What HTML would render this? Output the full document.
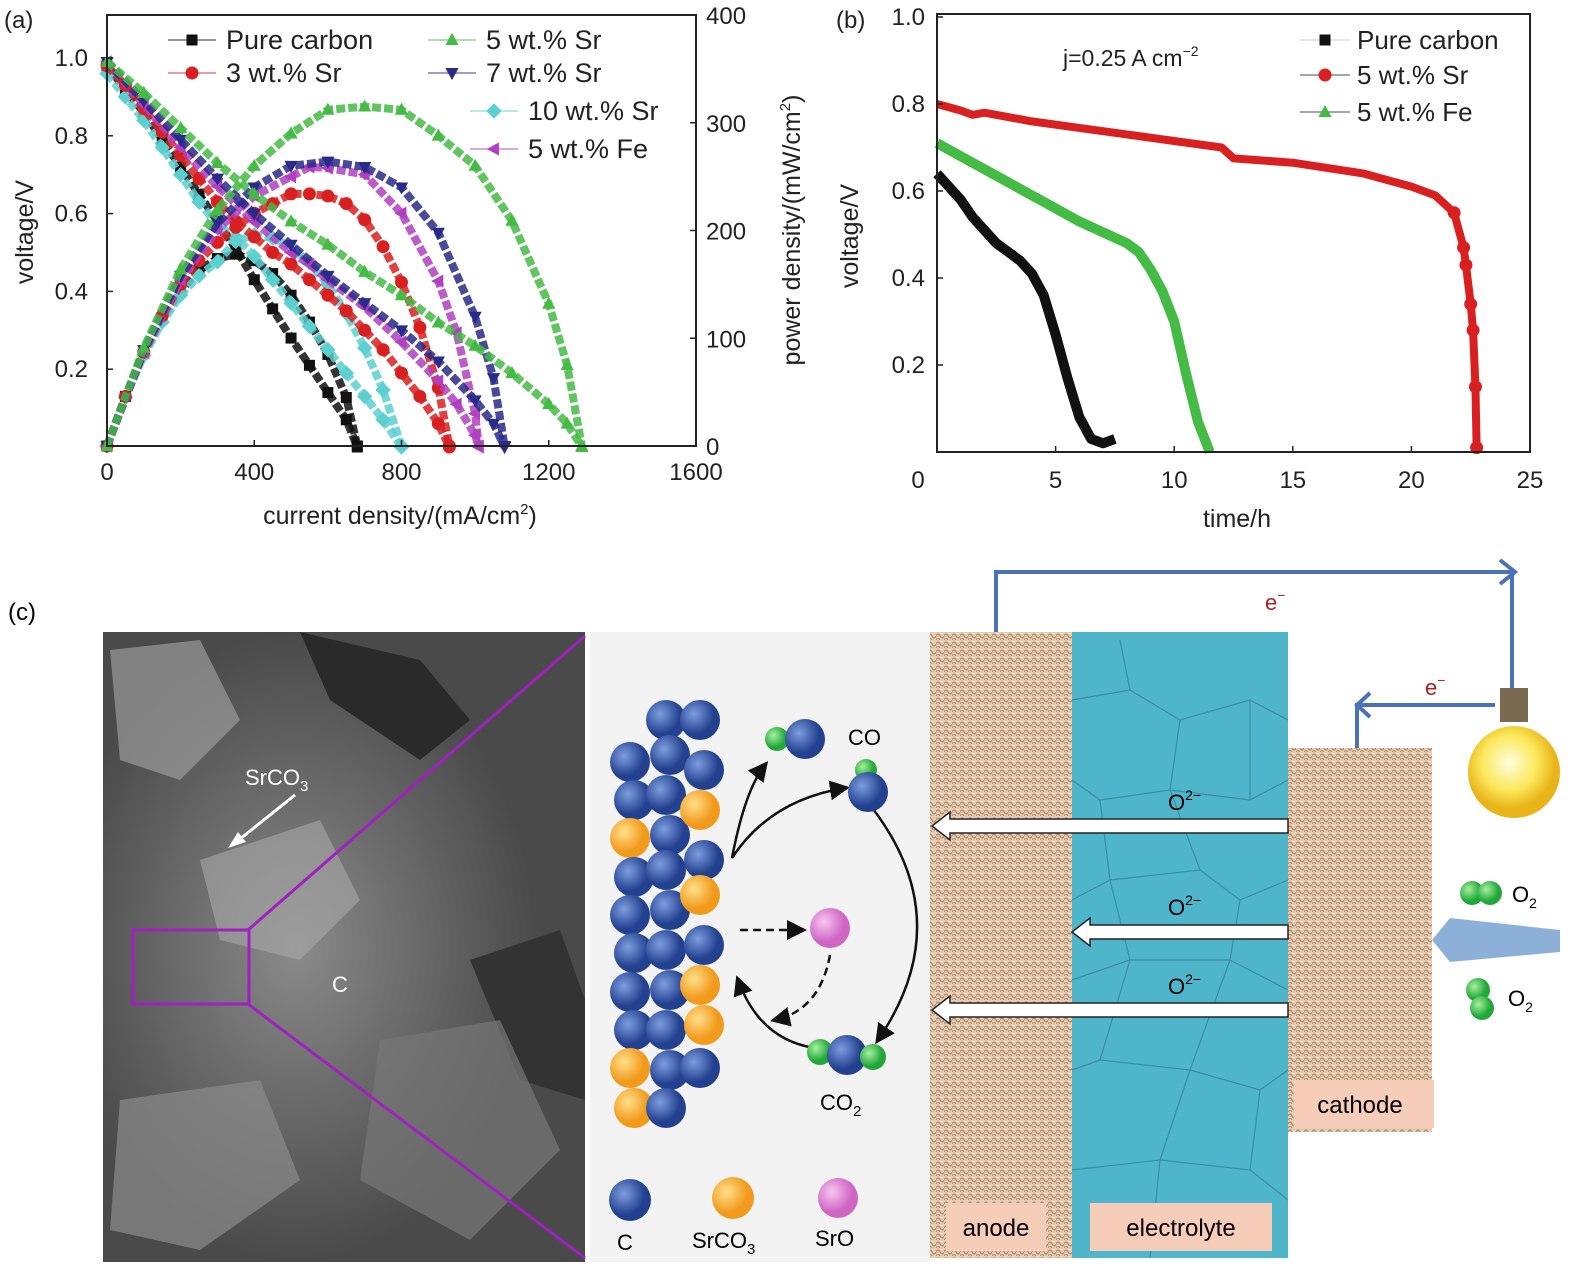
<!DOCTYPE html>
<html><head><meta charset="utf-8"><style>
html,body{margin:0;padding:0;background:#fff;overflow:hidden;width:1577px;height:1276px}
svg{display:block;font-family:"Liberation Sans",sans-serif}
</style></head><body>
<svg id="fig" width="1577" height="1276" viewBox="0 0 1577 1276">
<defs>
<pattern id="sponge" width="8" height="8" patternUnits="userSpaceOnUse"><rect width="8" height="8" fill="#e6cdb4"/><path d="M0 4 Q2 0 4 4 T8 4" stroke="#b08868" stroke-width="1.2" fill="none"/><path d="M0 8 Q2 5 4 8" stroke="#b08868" stroke-width="1" fill="none"/></pattern>
<radialGradient id="gb" cx="35%" cy="35%"><stop offset="0" stop-color="#7e9ee0"/><stop offset="1" stop-color="#23418f"/></radialGradient>
<radialGradient id="go" cx="35%" cy="35%"><stop offset="0" stop-color="#ffe08a"/><stop offset="1" stop-color="#f29a1c"/></radialGradient>
<radialGradient id="gp" cx="35%" cy="35%"><stop offset="0" stop-color="#f6c6ee"/><stop offset="1" stop-color="#d066c4"/></radialGradient>
<radialGradient id="gg" cx="35%" cy="35%"><stop offset="0" stop-color="#a7f0a0"/><stop offset="1" stop-color="#22a83a"/></radialGradient>
<radialGradient id="gy" cx="45%" cy="40%"><stop offset="0" stop-color="#fffde0"/><stop offset="0.6" stop-color="#fbe85a"/><stop offset="1" stop-color="#e8b418"/></radialGradient>
<radialGradient id="sem" cx="40%" cy="50%"><stop offset="0" stop-color="#8a8a8a"/><stop offset="1" stop-color="#4a4a4a"/></radialGradient>
<marker id="ah" markerWidth="8" markerHeight="8" refX="6" refY="4" orient="auto"><path d="M0 0 L8 4 L0 8 z" fill="#111"/></marker>
</defs>
<g id="panelA"></g>
<g id="panelB"></g>
<g id="panelC">
<text x="8" y="620" font-size="24">(c)</text>
<rect x="103" y="632" width="482" height="630" fill="url(#sem)"/>
<path d="M300 632 L420 660 L470 720 L420 760 L330 700 Z" fill="#2a2a2a"/>
<path d="M470 960 L560 930 L585 1000 L585 1100 L520 1080 Z" fill="#333"/>
<path d="M110 650 L200 640 L240 720 L180 780 L120 760 Z" fill="#9a9a9a" opacity="0.7"/>
<path d="M200 860 L320 820 L360 900 L300 960 L220 940 Z" fill="#a8a8a8" opacity="0.6"/>
<path d="M120 1100 L260 1080 L300 1180 L200 1250 L110 1230 Z" fill="#8c8c8c" opacity="0.7"/>
<path d="M380 1040 L500 1020 L560 1150 L470 1240 L360 1180 Z" fill="#777" opacity="0.7"/>
<line x1="248" y1="930" x2="585" y2="636" stroke="#a020c0" stroke-width="3"/>
<line x1="248" y1="1004" x2="585" y2="1258" stroke="#a020c0" stroke-width="3"/>
<rect x="133" y="930" width="116" height="74" fill="none" stroke="#a020c0" stroke-width="3"/>
<text x="245" y="785" font-size="22" fill="#fff">SrCO<tspan font-size="15" dy="6">3</tspan></text>
<line x1="295" y1="795" x2="235" y2="843" stroke="#fff" stroke-width="3"/>
<path d="M228 848 L238 832 L246 842 Z" fill="#fff"/>
<text x="332" y="992" font-size="22" fill="#fff">C</text>
<rect x="590" y="632" width="340" height="630" fill="#f3f3f3"/>
<g id="balls"></g>
<g fill="none" stroke="#111" stroke-width="2.5">
<path d="M732 858 Q745 790 765 765" marker-end="url(#ah)"/>
<path d="M732 858 Q770 800 845 788" marker-end="url(#ah)"/>
<path d="M870 805 Q960 920 878 1040" marker-end="url(#ah)"/>
<path d="M815 1048 Q760 1040 738 980" marker-end="url(#ah)"/>
<path d="M740 930 L802 930" stroke-dasharray="8 5" marker-end="url(#ah)"/>
<path d="M830 955 Q820 1010 775 1020" stroke-dasharray="8 5" marker-end="url(#ah)"/>
</g>
<circle cx="777" cy="739" r="12" fill="url(#gg)"/><circle cx="805" cy="739" r="20" fill="url(#gb)"/>
<circle cx="866" cy="770" r="11" fill="url(#gg)"/><circle cx="868" cy="792" r="20" fill="url(#gb)"/>
<text x="848" y="745" font-size="22">CO</text>
<circle cx="830" cy="928" r="20" fill="url(#gp)"/>
<circle cx="820" cy="1052" r="13" fill="url(#gg)"/><circle cx="847" cy="1055" r="20" fill="url(#gb)"/><circle cx="873" cy="1057" r="13" fill="url(#gg)"/>
<text x="820" y="1110" font-size="22">CO<tspan font-size="15" dy="6">2</tspan></text>
<circle cx="630" cy="1200" r="21" fill="url(#gb)"/><circle cx="733" cy="1198" r="21" fill="url(#go)"/><circle cx="838" cy="1198" r="20" fill="url(#gp)"/>
<text x="617" y="1250" font-size="22">C</text>
<text x="692" y="1248" font-size="22">SrCO<tspan font-size="15" dy="6">3</tspan></text>
<text x="815" y="1246" font-size="22">SrO</text>
<rect x="930" y="632" width="142" height="626" fill="url(#sponge)"/>
<rect x="1072" y="632" width="216" height="626" fill="#4fb5ca"/>
<g stroke="#3a8ea3" stroke-width="1.2" fill="none">
<path d="M1072 700 L1130 690 L1180 720 L1250 700 L1288 720 M1130 690 L1120 640 M1180 720 L1170 790 L1100 800 L1072 780 M1170 790 L1250 800 L1288 780 M1250 700 L1250 800 M1100 800 L1110 880 L1072 900 M1110 880 L1200 870 L1240 900 L1288 880 M1200 870 L1170 790 M1110 880 L1130 960 L1072 980 M1130 960 L1230 960 L1240 900 M1230 960 L1288 990 M1130 960 L1100 1060 L1072 1070 M1100 1060 L1190 1070 L1230 960 M1190 1070 L1260 1090 L1288 1070 M1190 1070 L1160 1160 L1072 1170 M1160 1160 L1250 1170 L1260 1090 M1250 1170 L1288 1200 M1160 1160 L1150 1258"/>
</g>
<rect x="1288" y="748" width="144" height="384" fill="url(#sponge)"/>
<rect x="946" y="1203" width="100" height="48" fill="#f6cdb8"/>
<text x="996" y="1236" font-size="24" text-anchor="middle">anode</text>
<rect x="1090" y="1203" width="182" height="48" fill="#f6cdb8"/>
<text x="1181" y="1236" font-size="24" text-anchor="middle">electrolyte</text>
<rect x="1294" y="1080" width="140" height="48" fill="#f6cdb8"/>
<text x="1360" y="1113" font-size="24" text-anchor="middle">cathode</text>
<g fill="#fff" stroke="#222" stroke-width="1.5">
<path d="M1288 819 L950 819 L950 812 L932 826 L950 840 L950 833 L1288 833 Z"/>
<path d="M1288 925 L1090 925 L1090 918 L1072 932 L1090 946 L1090 939 L1288 939 Z"/>
<path d="M1288 1003 L950 1003 L950 996 L932 1010 L950 1024 L950 1017 L1288 1017 Z"/>
</g>
<text x="1168" y="810" font-size="22">O<tspan font-size="14" dy="-10">2−</tspan></text>
<text x="1168" y="915" font-size="22">O<tspan font-size="14" dy="-10">2−</tspan></text>
<text x="1168" y="994" font-size="22">O<tspan font-size="14" dy="-10">2−</tspan></text>
<g fill="none" stroke="#4a72b8" stroke-width="4">
<path d="M996 632 L996 572 L1512 572 L1512 690"/>
<path d="M1500 560 L1515 572 L1500 584"/>
<path d="M1357 748 L1357 705 L1495 705"/>
<path d="M1370 693 L1357 705 L1370 717"/>
</g>
<text x="1265" y="610" font-size="22" fill="#b02020">e<tspan font-size="14" dy="-10">−</tspan></text>
<text x="1425" y="695" font-size="22" fill="#b02020">e<tspan font-size="14" dy="-10">−</tspan></text>
<g>
<rect x="1500" y="688" width="28" height="34" fill="#7a6a50"/>
<circle cx="1514" cy="772" r="46" fill="url(#gy)"/>
</g>
<path d="M1432 940 L1450 918 L1560 930 L1560 952 L1450 962 Z" fill="#8db0d8"/>
<circle cx="1472" cy="893" r="12" fill="url(#gg)"/><circle cx="1490" cy="893" r="12" fill="url(#gg)"/>
<text x="1512" y="902" font-size="22">O<tspan font-size="14" dy="6">2</tspan></text>
<circle cx="1478" cy="990" r="12" fill="url(#gg)"/><circle cx="1482" cy="1008" r="12" fill="url(#gg)"/>
<text x="1508" y="1006" font-size="22">O<tspan font-size="14" dy="6">2</tspan></text>
</g>
</svg>
<script>
const NS='http://www.w3.org/2000/svg';
function mk(p,t,a){const e=document.createElementNS(NS,t);for(const k in a)e.setAttribute(k,a[k]);p.appendChild(e);return e;}

// ---- Panel A data ----
const aSeriesNames=['Pure carbon','3 wt.% Sr','5 wt.% Sr','7 wt.% Sr','10 wt.% Sr','5 wt.% Fe'];
const aCurrentPure=[0,50,100,150,200,250,300,350,400,450,500,550,600,650,680];
const aVoltPure=[0.98,0.92,0.86,0.79,0.72,0.65,0.58,0.51,0.43,0.355,0.28,0.21,0.14,0.07,0];
const aPowerPure=[0,46,86,119,144,163,174,178,172,160,140,115,85,45,0];
const aCurrent3Sr=[0,50,100,150,200,250,300,350,400,450,500,550,600,650,700,750,800,850,900,930];
const aVolt3Sr=[0.98,0.93,0.87,0.81,0.75,0.69,0.63,0.58,0.54,0.5,0.47,0.43,0.39,0.35,0.3,0.25,0.19,0.13,0.06,0];
const aPower3Sr=[0,46,87,121,150,172,189,203,216,225,234,234,232,225,210,185,152,110,54,0];
const aCurrent5Sr=[0,100,200,300,400,500,600,700,800,900,1000,1100,1200,1250,1290];
const aVolt5Sr=[0.99,0.91,0.82,0.73,0.65,0.58,0.52,0.45,0.39,0.32,0.26,0.19,0.11,0.06,0];
const aPower5Sr=[0,91,164,219,260,290,312,315,312,288,260,209,132,75,0];
const aCurrent7Sr=[0,100,200,300,400,500,600,700,800,900,1000,1050,1080];
const aVolt7Sr=[0.99,0.89,0.79,0.69,0.6,0.52,0.44,0.37,0.3,0.22,0.12,0.06,0];
const aPower7Sr=[0,89,158,207,240,260,264,259,240,198,120,63,0];
const aCurrent10Sr=[0,50,100,150,200,250,300,350,400,450,500,550,600,650,700,750,800];
const aVolt10Sr=[0.96,0.9,0.84,0.77,0.7,0.63,0.57,0.54,0.49,0.43,0.37,0.31,0.25,0.19,0.13,0.07,0];
const aPower10Sr=[0,45,84,115,140,158,171,190,196,193,185,170,150,123,91,52,0];
const aCurrentFe=[0,100,200,300,400,500,550,600,700,800,900,950,1000,1010];
const aVoltFe=[0.99,0.88,0.77,0.67,0.58,0.5,0.47,0.43,0.36,0.27,0.17,0.11,0.03,0];
const aPowerFe=[0,88,154,201,232,250,259,258,252,216,153,105,30,0];
const aXTicks=[0,400,800,1200,1600];
const aYTicks=[0.2,0.4,0.6,0.8,1.0];
const aY2Ticks=[0,100,200,300,400];

// ---- Panel B data ----
const bTimeRed=[0,1,1.5,2,4,6,8,10,12,12.5,15,18,20,21,21.8,22.2,22.3,22.5,22.6,22.7,22.75];
const bVoltRed=[0.8,0.785,0.775,0.78,0.76,0.745,0.73,0.715,0.7,0.675,0.665,0.64,0.61,0.59,0.55,0.47,0.43,0.34,0.28,0.15,0.01];
const bTimeGreen=[0,1,2,3,4,5,6,7,8,8.5,9,9.5,10,10.5,11,11.5];
const bVoltGreen=[0.71,0.68,0.65,0.62,0.59,0.56,0.53,0.505,0.48,0.46,0.42,0.37,0.3,0.18,0.07,0];
const bTimeBlack=[0,0.5,1,1.5,2,2.5,3,3.5,4,4.5,5,5.5,6,6.5,7,7.5];
const bVoltBlack=[0.64,0.61,0.58,0.54,0.51,0.48,0.46,0.44,0.41,0.36,0.27,0.17,0.08,0.03,0.02,0.03];
const bXTicks=[5,10,15,20,25];
const bYTicks=[0.2,0.4,0.6,0.8,1.0];

// ---- Panel A drawing ----
const A=document.getElementById('panelA');
const ax={l:107,r:696,t:15,b:446};
const axX=v=>ax.l+v/1600*(ax.r-ax.l);
const axY=v=>447-v*389;
const axY2=v=>ax.b-v/400*(ax.b-ax.t);
function marker(g,type,x,y,c,s){
  let e;
  if(type==='sq')e=mk(g,'rect',{x:x-s/2,y:y-s/2,width:s,height:s,fill:c});
  else if(type==='ci')e=mk(g,'circle',{cx:x,cy:y,r:s/2+1,fill:c});
  else if(type==='tu')e=mk(g,'path',{d:`M${x} ${y-s*0.65}L${x+s*0.6} ${y+s*0.45}L${x-s*0.6} ${y+s*0.45}Z`,fill:c});
  else if(type==='td')e=mk(g,'path',{d:`M${x} ${y+s*0.65}L${x+s*0.6} ${y-s*0.45}L${x-s*0.6} ${y-s*0.45}Z`,fill:c});
  else if(type==='di')e=mk(g,'path',{d:`M${x} ${y-s*0.7}L${x+s*0.7} ${y}L${x} ${y+s*0.7}L${x-s*0.7} ${y}Z`,fill:c});
  else e=mk(g,'path',{d:`M${x-s*0.65} ${y}L${x+s*0.45} ${y-s*0.6}L${x+s*0.45} ${y+s*0.6}Z`,fill:c});
  return e;
}
const aSeries=[
 [aCurrentPure,aVoltPure,aPowerPure,'#111','sq','pure-carbon'],
 [aCurrent10Sr,aVolt10Sr,aPower10Sr,'#5cd0d0','di','10wt-sr'],
 [aCurrent3Sr,aVolt3Sr,aPower3Sr,'#d92020','ci','3wt-sr'],
 [aCurrentFe,aVoltFe,aPowerFe,'#b040c0','tl','5wt-fe'],
 [aCurrent7Sr,aVolt7Sr,aPower7Sr,'#2a2a8a','td','7wt-sr'],
 [aCurrent5Sr,aVolt5Sr,aPower5Sr,'#44bb44','tu','5wt-sr']
];
aSeries.forEach(s=>{
  const [I,V,P,c,m,n]=s;
  const g=mk(A,'g',{});
  
  
  mk(g,'polyline',{points:I.map((x,i)=>axX(x)+','+axY(V[i])).join(' '),fill:'none',stroke:c,'stroke-width':8,'stroke-opacity':0.85,'stroke-dasharray':'9 3'});
  mk(g,'polyline',{points:I.map((x,i)=>axX(x)+','+axY2(P[i])).join(' '),fill:'none',stroke:c,'stroke-width':8,'stroke-opacity':0.85,'stroke-dasharray':'9 3'});
  I.forEach((x,i)=>{marker(g,m,axX(x),axY(V[i]),c,11);marker(g,m,axX(x),axY2(P[i]),c,11);});
});
mk(A,'rect',{x:ax.l,y:ax.t,width:ax.r-ax.l,height:ax.b-ax.t,fill:'none',stroke:'#222','stroke-width':2});
aXTicks.forEach(v=>{const x=axX(v);mk(A,'line',{x1:x,y1:ax.b,x2:x,y2:ax.b-6,stroke:'#222','stroke-width':1.5});
 const t=mk(A,'text',{x:x,y:480,'font-size':24,'text-anchor':'middle',fill:'#222'});t.textContent=v;
 });
aYTicks.forEach(v=>{const y=axY(v);mk(A,'line',{x1:ax.l,y1:y,x2:ax.l+6,y2:y,stroke:'#222','stroke-width':1.5});
 const t=mk(A,'text',{x:88,y:y+8,'font-size':24,'text-anchor':'end',fill:'#222'});t.textContent=v.toFixed(1);
 });
aY2Ticks.forEach(v=>{const y=axY2(v);mk(A,'line',{x1:ax.r,y1:y,x2:ax.r-6,y2:y,stroke:'#222','stroke-width':1.5});
 const t=mk(A,'text',{x:706,y:y+9,'font-size':24,fill:'#222'});t.textContent=v;
 });
function txt(p,x,y,s,str,opt,name){const t=mk(p,'text',Object.assign({x:x,y:y,'font-size':s,fill:'#222'},opt||{}));t.innerHTML=str;
 return t;}
txt(A,4,28,24,'(a)',{},'panel-a-label');
txt(A,33,232,25,'voltage/V',{transform:'rotate(-90 33 232)','text-anchor':'middle'},'y-axis-title-a');
txt(A,800,230,25,'power density/(mW/cm<tspan font-size="15" dy="-10">2</tspan><tspan dy="10">)</tspan>',{transform:'rotate(-90 800 230)','text-anchor':'middle'},'y2-axis-title-a');
txt(A,400,524,25,'current density/(mA/cm<tspan font-size="15" dy="-10">2</tspan><tspan dy="10">)</tspan>',{'text-anchor':'middle'},'x-axis-title-a');
const aLegend=[[0,'#111','sq',168,40],[2,'#44bb44','tu',428,40],[1,'#d92020','ci',168,73],[3,'#2a2a8a','td',428,73],[4,'#5cd0d0','di',470,111],[5,'#b040c0','tl',470,149]];
aLegend.forEach(L=>{const g=mk(A,'g',{});
 mk(g,'line',{x1:L[3],y1:L[4],x2:L[3]+48,y2:L[4],stroke:L[1],'stroke-width':1.5,'stroke-opacity':0.6});
 marker(g,L[2],L[3]+24,L[4],L[1],11);
 const t=mk(g,'text',{x:L[3]+58,y:L[4]+9,'font-size':27,fill:'#222'});t.textContent=aSeriesNames[L[0]];});

// ---- Panel B drawing ----
const B=document.getElementById('panelB');
const bx={l:937,r:1530,t:14,b:452};
const bX=v=>bx.l+v/25*(bx.r-bx.l);
const bY=v=>bx.b-v*435;
[[bTimeBlack,bVoltBlack,'#111','sq','pure-carbon'],[bTimeGreen,bVoltGreen,'#44bb44','tu','5wt-fe'],[bTimeRed,bVoltRed,'#d92020','ci','5wt-sr']].forEach(s=>{
 const [T,V,c,m,n]=s;const g=mk(B,'g',{});
 
 
 mk(g,'polyline',{points:T.map((x,i)=>bX(x)+','+bY(V[i])).join(' '),fill:'none',stroke:c,'stroke-width':n==='5wt-sr'?8:10,'stroke-linejoin':'round'});
 if(n==='5wt-sr')T.forEach((x,i)=>{if(x>=21.8)marker(g,m,bX(x),bY(V[i]),c,11);});
});
mk(B,'rect',{x:bx.l,y:bx.t,width:bx.r-bx.l,height:bx.b-bx.t,fill:'none',stroke:'#222','stroke-width':2});
bXTicks.forEach(v=>{const x=bX(v);mk(B,'line',{x1:x,y1:bx.b,x2:x,y2:bx.b-6,stroke:'#222','stroke-width':1.5});
 const t=mk(B,'text',{x:x,y:488,'font-size':24,'text-anchor':'middle',fill:'#222'});t.textContent=v;
 });
const t0=mk(B,'text',{x:918,y:488,'font-size':24,'text-anchor':'middle',fill:'#222'});t0.textContent='0';

bYTicks.forEach(v=>{const y=bY(v);mk(B,'line',{x1:bx.l,y1:y,x2:bx.l+6,y2:y,stroke:'#222','stroke-width':1.5});
 const t=mk(B,'text',{x:925,y:y+8,'font-size':24,'text-anchor':'end',fill:'#222'});t.textContent=v.toFixed(1);
 });
txt(B,836,28,24,'(b)',{},'panel-b-label');
txt(B,858,236,25,'voltage/V',{transform:'rotate(-90 858 236)','text-anchor':'middle'},'y-axis-title-b');
txt(B,1237,527,25,'time/h',{'text-anchor':'middle'},'x-axis-title-b');
txt(B,1063,66,23,'j=0.25 A cm<tspan font-size="14" dy="-10">−2</tspan>',{},'current-density-annotation');
const bLegendNames=['Pure carbon','5 wt.% Sr','5 wt.% Fe'];
[['#111','sq',40],['#d92020','ci',75],['#44bb44','tu',112]].forEach((L,i)=>{const g=mk(B,'g',{});
 
 mk(g,'line',{x1:1300,y1:L[2],x2:1350,y2:L[2],stroke:i?'#888':'#ddd','stroke-width':1.5});
 marker(g,L[1],1325,L[2],L[0],11);
 const t=mk(g,'text',{x:1357,y:L[2]+9,'font-size':26,fill:'#222'});t.textContent=bLegendNames[i];});

// ---- balls in panel C ----
const G=document.getElementById('balls');
const rows=[[630,[762,800,838,877,915,953,992,1030,1068,1108]],[666,[720,755,795,835,870,910,950,990,1030,1070,1108]],[700,[720,770,810,860,895,945,985,1025,1068]]];
const colors={b:'url(#gb)',o:'url(#go)'};
const pattern=['bbobbbbboobb','bbbbbbbbbbbb','bboboboobbo'];
rows.forEach((r,ri)=>r[1].forEach((y,i)=>{mk(G,'circle',{cx:r[0]+(i%2?4:0),cy:y,r:20,fill:colors[pattern[ri][i]||'b']});}));
</script>
</body></html>
